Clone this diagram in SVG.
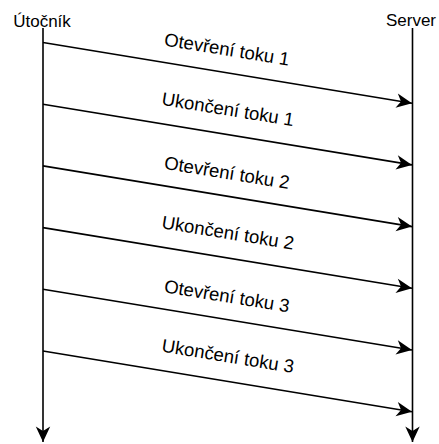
<svg xmlns="http://www.w3.org/2000/svg" width="439" height="444" viewBox="0 0 439 444">
<defs>
<marker id="arr" markerUnits="userSpaceOnUse" markerWidth="20" markerHeight="20" viewBox="-16 -8 18 16" refX="0" refY="0" orient="auto">
<path d="M0,0 L-14,-6.5 L-10,0 L-14,6.5 Z" fill="#000"/>
</marker>
</defs>
<style>
text{font-family:"Liberation Sans",Arial,sans-serif;font-size:17px;fill:#000;text-anchor:middle}
.lbl{font-size:18.5px}
.life{stroke:#000;stroke-width:1.6;fill:none}
.msg{stroke:#000;stroke-width:1.6;fill:none}
</style>
<g id="attacker">
<text x="42" y="26.5">Útočník</text>
<line class="life" x1="43" y1="28" x2="43" y2="442" marker-end="url(#arr)"/>
</g>
<g id="server">
<text x="411" y="26">Server</text>
<line class="life" x1="412.5" y1="28" x2="412.5" y2="442" marker-end="url(#arr)"/>
</g>
<g id="connectors">
<line class="msg" x1="43" y1="42.5" x2="412" y2="103.2" marker-end="url(#arr)"/>
<text class="lbl" transform="translate(226,55.5) rotate(9.2)">Otevření toku 1</text>
<line class="msg" x1="43" y1="104.2" x2="412" y2="164.9" marker-end="url(#arr)"/>
<text class="lbl" transform="translate(227,115.5) rotate(9.2)">Ukončení toku 1</text>
<line class="msg" x1="43" y1="165.9" x2="412" y2="226.6" marker-end="url(#arr)"/>
<text class="lbl" transform="translate(226,178.9) rotate(9.2)">Otevření toku 2</text>
<line class="msg" x1="43" y1="227.6" x2="412" y2="288.3" marker-end="url(#arr)"/>
<text class="lbl" transform="translate(227,238.9) rotate(9.2)">Ukončení toku 2</text>
<line class="msg" x1="43" y1="289.3" x2="412" y2="350" marker-end="url(#arr)"/>
<text class="lbl" transform="translate(226,302.3) rotate(9.2)">Otevření toku 3</text>
<line class="msg" x1="43" y1="351" x2="412" y2="411.7" marker-end="url(#arr)"/>
<text class="lbl" transform="translate(227,362.3) rotate(9.2)">Ukončení toku 3</text>
</g>
</svg>
